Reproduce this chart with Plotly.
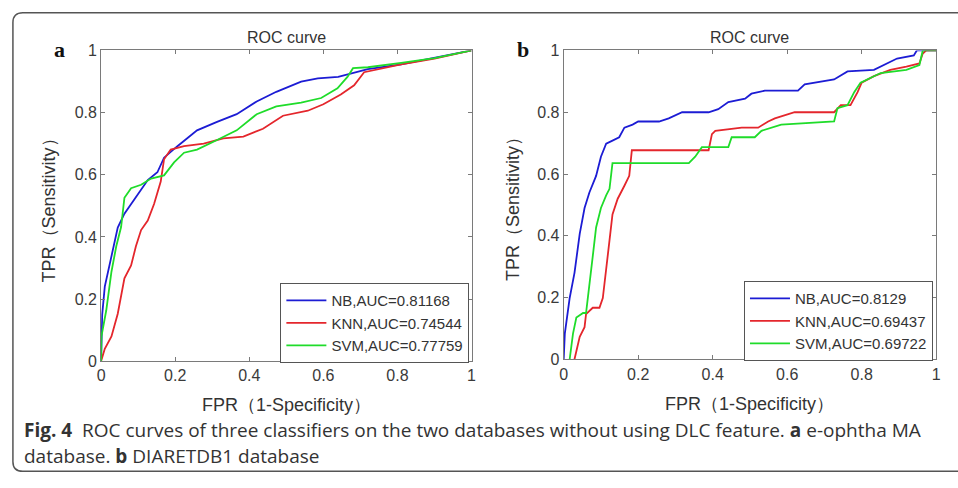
import plotly.graph_objects as go

# ---- Data ----
# Panel a: e-ophtha MA
a_nb_fpr = [0, 0.003, 0.01, 0.028, 0.045, 0.063, 0.099, 0.126, 0.152, 0.17, 0.206, 0.259, 0.313, 0.366, 0.42, 0.473, 0.54, 0.585, 0.64, 0.674, 0.70, 0.72, 0.81, 0.90, 1.0]
a_nb_tpr = [0, 0.15, 0.24, 0.34, 0.43, 0.475, 0.537, 0.583, 0.608, 0.655, 0.692, 0.743, 0.77, 0.795, 0.836, 0.867, 0.90, 0.91, 0.915, 0.925, 0.935, 0.94, 0.955, 0.976, 1.0]
a_knn_fpr = [0, 0.01, 0.028, 0.045, 0.063, 0.081, 0.094, 0.108, 0.126, 0.143, 0.161, 0.17, 0.188, 0.224, 0.277, 0.33, 0.384, 0.437, 0.491, 0.558, 0.60, 0.647, 0.683, 0.71, 0.81, 0.90, 1.0]
a_knn_tpr = [0, 0.04, 0.08, 0.153, 0.267, 0.308, 0.37, 0.422, 0.453, 0.506, 0.578, 0.65, 0.681, 0.692, 0.70, 0.717, 0.723, 0.748, 0.79, 0.806, 0.827, 0.858, 0.888, 0.93, 0.955, 0.974, 1.0]
a_svm_fpr = [0, 0.001, 0.014, 0.028, 0.041, 0.054, 0.063, 0.081, 0.108, 0.135, 0.17, 0.197, 0.224, 0.259, 0.313, 0.366, 0.42, 0.473, 0.54, 0.594, 0.638, 0.665, 0.68, 0.72, 0.81, 0.90, 1.0]
a_svm_tpr = [0, 0.08, 0.164, 0.288, 0.37, 0.432, 0.526, 0.557, 0.568, 0.588, 0.598, 0.64, 0.671, 0.681, 0.712, 0.743, 0.795, 0.82, 0.832, 0.847, 0.878, 0.915, 0.943, 0.946, 0.96, 0.975, 1.0]

# Panel b: DIARETDB1
b_nb_fpr = [0, 0.003, 0.016, 0.029, 0.043, 0.056, 0.069, 0.087, 0.10, 0.114, 0.131, 0.149, 0.163, 0.185, 0.20, 0.256, 0.282, 0.318, 0.389, 0.415, 0.442, 0.487, 0.504, 0.54, 0.629, 0.647, 0.726, 0.762, 0.833, 0.869, 0.895, 0.94, 0.948, 1.0]
b_nb_tpr = [0, 0.083, 0.198, 0.28, 0.406, 0.49, 0.54, 0.594, 0.656, 0.698, 0.708, 0.719, 0.75, 0.76, 0.77, 0.77, 0.78, 0.80, 0.80, 0.81, 0.833, 0.844, 0.86, 0.87, 0.87, 0.89, 0.906, 0.932, 0.937, 0.958, 0.974, 0.984, 1.0, 1.0]
b_knn_fpr = [0.029, 0.043, 0.056, 0.06, 0.078, 0.096, 0.105, 0.114, 0.123, 0.131, 0.145, 0.163, 0.176, 0.183, 0.389, 0.398, 0.407, 0.478, 0.522, 0.549, 0.567, 0.62, 0.726, 0.744, 0.77, 0.789, 0.80, 0.833, 0.877, 0.92, 0.955, 0.964, 0.973, 1.0]
b_knn_tpr = [0, 0.073, 0.104, 0.146, 0.167, 0.167, 0.198, 0.302, 0.385, 0.469, 0.52, 0.562, 0.594, 0.677, 0.677, 0.729, 0.74, 0.75, 0.75, 0.77, 0.78, 0.80, 0.80, 0.823, 0.823, 0.865, 0.896, 0.917, 0.937, 0.948, 0.958, 0.99, 1.0, 1.0]
b_svm_fpr = [0.016, 0.025, 0.034, 0.052, 0.06, 0.069, 0.078, 0.087, 0.10, 0.114, 0.123, 0.131, 0.336, 0.353, 0.371, 0.442, 0.451, 0.513, 0.531, 0.584, 0.726, 0.735, 0.762, 0.78, 0.797, 0.851, 0.92, 0.955, 0.964, 1.0]
b_svm_tpr = [0, 0.083, 0.135, 0.15, 0.15, 0.25, 0.333, 0.427, 0.49, 0.531, 0.552, 0.635, 0.635, 0.656, 0.687, 0.687, 0.719, 0.719, 0.74, 0.76, 0.77, 0.813, 0.823, 0.865, 0.896, 0.927, 0.937, 0.953, 1.0, 1.0]

a_names = ["NB,AUC=0.81168", "KNN,AUC=0.74544", "SVM,AUC=0.77759"]
b_names = ["NB,AUC=0.8129", "KNN,AUC=0.69437", "SVM,AUC=0.69722"]
tick_vals = [0, 0.2, 0.4, 0.6, 0.8, 1]
tick_text = ["0", "0.2", "0.4", "0.6", "0.8", "1"]

colors = ["#1c1cd4", "#e4262c", "#1fdc2a"]

fig = go.Figure()

a_series = [(a_nb_fpr, a_nb_tpr), (a_knn_fpr, a_knn_tpr), (a_svm_fpr, a_svm_tpr)]
b_series = [(b_nb_fpr, b_nb_tpr), (b_knn_fpr, b_knn_tpr), (b_svm_fpr, b_svm_tpr)]

for (x, y), name, c in zip(a_series, a_names, colors):
    fig.add_trace(go.Scatter(x=x, y=y, mode="lines", name=name, line=dict(color=c, width=1.8),
                             xaxis="x", yaxis="y", legend="legend"))
for (x, y), name, c in zip(b_series, b_names, colors):
    fig.add_trace(go.Scatter(x=x, y=y, mode="lines", name=name, line=dict(color=c, width=1.8),
                             xaxis="x2", yaxis="y2", legend="legend2"))

W, H = 958, 488
def px(x):
    return x / W
def py(y):
    return 1 - y / H

SANS = "Arial, Liberation Sans, sans-serif"
axis_common = dict(range=[0, 1], tickvals=tick_vals, ticktext=tick_text, showgrid=False, zeroline=False,
                   showline=True, mirror="ticks", linecolor="#7a7a7a", linewidth=1, ticks="inside",
                   ticklen=4, tickcolor="#7a7a7a", tickfont=dict(family=SANS, size=16, color="#3a3a3a"))

legend_common = dict(xanchor="left", yanchor="top", bgcolor="white", bordercolor="#555555", borderwidth=1,
                     font=dict(family=SANS, size=15, color="#333333"), tracegroupgap=0, itemwidth=40)

fig.update_layout(
    width=W, height=H, margin=dict(l=0, r=0, t=0, b=0),
    paper_bgcolor="white", plot_bgcolor="white",
    xaxis=dict(domain=[px(98), px(472)], anchor="y", **axis_common),
    yaxis=dict(domain=[py(366), py(44)], anchor="x", **axis_common),
    xaxis2=dict(domain=[px(565), px(941)], anchor="y2", **axis_common),
    yaxis2=dict(domain=[py(364), py(44)], anchor="x2", **axis_common),
    legend=dict(x=px(279), y=py(285), **legend_common),
    legend2=dict(x=px(747), y=py(283), **legend_common),
    showlegend=True,
)

ann_font = dict(family=SANS, color="#333333")
annots = [
    dict(text="ROC curve", x=px(285), y=py(31), font=dict(size=16, **ann_font)),
    dict(text="ROC curve", x=px(753), y=py(31), font=dict(size=16, **ann_font)),
    dict(text="<b>a</b>", x=px(56), y=py(43), font=dict(size=22, family="Liberation Serif, Times New Roman", color="#111111")),
    dict(text="<b>b</b>", x=px(524), y=py(43), font=dict(size=22, family="Liberation Serif, Times New Roman", color="#111111")),
    dict(text="TPR（Sensitivity）", x=px(45), y=py(205), textangle=-90, font=dict(size=18, **ann_font)),
    dict(text="TPR（Sensitivity）", x=px(514), y=py(204), textangle=-90, font=dict(size=18, **ann_font)),
    dict(text="FPR（1-Specificity）", x=px(285), y=py(411), font=dict(size=18, **ann_font)),
    dict(text="FPR（1-Specificity）", x=px(753), y=py(410), font=dict(size=18, **ann_font)),
]
for a in annots:
    fig.add_annotation(xref="paper", yref="paper", showarrow=False, xanchor="center", yanchor="middle", **a)

cap_font = dict(family="Open Sans, Noto Sans, sans-serif", size=19, color="#333333")
fig.add_annotation(xref="paper", yref="paper", x=px(18), y=py(437), xanchor="left", yanchor="middle", showarrow=False,
                   text="<b>Fig. 4</b>  ROC curves of three classifiers on the two databases without using DLC feature. <b>a</b> e-ophtha MA",
                   font=cap_font)
fig.add_annotation(xref="paper", yref="paper", x=px(18), y=py(464), xanchor="left", yanchor="middle", showarrow=False,
                   text="database. <b>b</b> DIARETDB1 database", font=cap_font)

# rounded frame around the figure
r = 10
x0, x1, y0, y1 = 9, 975, 5, 480
path = (f"M {px(x0)},{py(y0 + r)} Q {px(x0)},{py(y0)} {px(x0 + r)},{py(y0)} L {px(x1)},{py(y0)} "
        f"L {px(x1)},{py(y1)} L {px(x0 + r)},{py(y1)} Q {px(x0)},{py(y1)} {px(x0)},{py(y1 - r)} Z")
fig.add_shape(type="path", path=path, xref="paper", yref="paper", line=dict(color="#555555", width=1.5), layer="below")

fig.write_html("out.html")
